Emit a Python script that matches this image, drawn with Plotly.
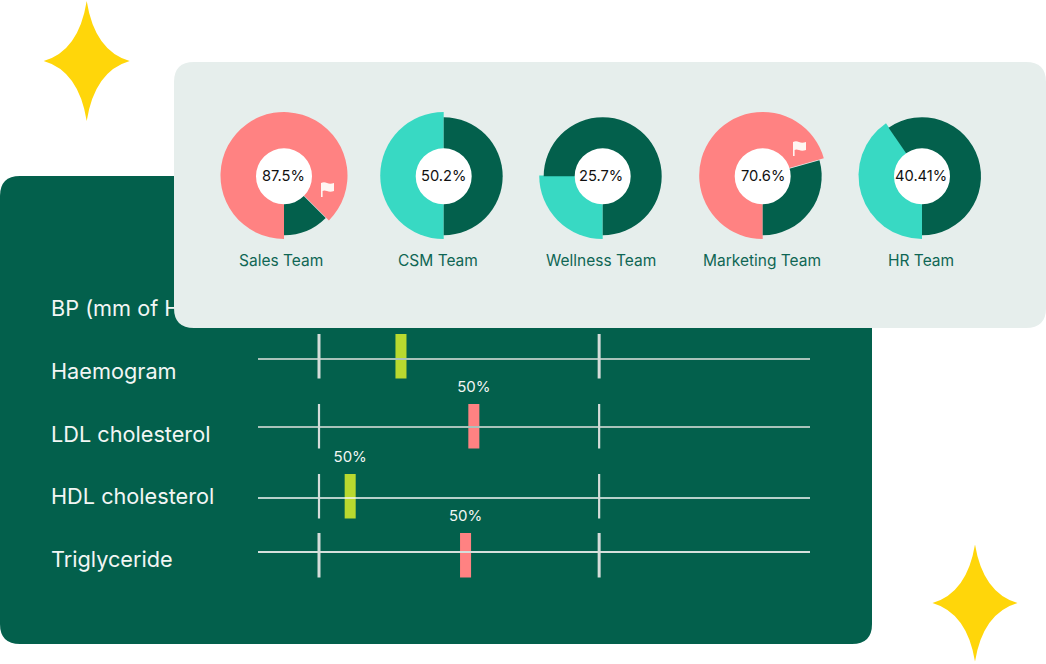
import plotly.graph_objects as go

# ---- data ----
TEAMS = ["Sales Team", "CSM Team", "Wellness Team", "Marketing Team", "HR Team"]
TEAM_LABELS = ["87.5%", "50.2%", "25.7%", "70.6%", "40.41%"]
TEAM_ARCS = [87.5, 50.0, 25.0, 70.6, 40.41]  # the drawn sweep, which differs slightly from the printed label
TEAM_FLAGGED = [True, False, False, True, False]

TESTS = ["Haemogram", "LDL cholesterol", "HDL cholesterol", "Triglyceride"]
TEST_VALUES = [25.9, 39.1, 16.7, 37.6]
TEST_LABELS = ["50%", "50%", "50%", "50%"]
TEST_IN_RANGE = [True, False, True, False]
RANGE_LIMITS = [11.05, 61.8]
HIDDEN_LABEL = "BP (mm of Hg)"

# ---- style / layout ----
W, H = 1046, 664
DARK, PINK, TEAL, LIME, YELLOW = "#03604c", "#ff8282", "#38d9c3", "#b9d92f", "#ffd60a"
PANEL = "#e6eeec"
FONT_A = "Inter"
FONT_B = "Inter"
CENTERS_X = [284, 443.7, 602.7, 762.7, 922]
TEXT_X = [283, 443.5, 600.7, 763, 921]
NAME_X = [280.5, 438, 601, 762, 921]
CY = 175.5
CY_SMALL = 176.3
R_BIG, R_SMALL, R_HOLE = 63.5, 59, 28
ROW_MID = [359, 427, 498, 552]
ROW_TOP = [334, 404, 474, 533]
ROW_HEIGHT = 44.5
LABEL_Y = [374, 437, 499, 562]
TRACK_COLOR = ["#a9c2ba", "#a9c2ba", "#f4f7f6", "#d6e0dc"]
TRACK_W = [2, 2, 1.5, 1.8]
TICK_W = [3, 2.2, 2.2, 3]
TRACK_L, TRACK_R = 258, 810
BAR_W = 2.0


def rrect(x0, y0, x1, y1, r):
    return (f"M{x0+r},{y0} L{x1-r},{y0} Q{x1},{y0} {x1},{y0+r} L{x1},{y1-r} Q{x1},{y1} {x1-r},{y1} "
            f"L{x0+r},{y1} Q{x0},{y1} {x0},{y1-r} L{x0},{y0+r} Q{x0},{y0} {x0+r},{y0} Z")


def star(cx, cy, w, h):
    kx, ky = 8, 10
    return (f"M{cx},{cy-h} Q{cx+kx},{cy-ky} {cx+w},{cy} Q{cx+kx},{cy+ky} {cx},{cy+h} "
            f"Q{cx-kx},{cy+ky} {cx-w},{cy} Q{cx-kx},{cy-ky} {cx},{cy-h} Z")


def flag(x, y):
    return (f"M{x},{y+15} L{x},{y+1} Q{x+3},{y-0.5} {x+6},{y+1} Q{x+9},{y+2.5} {x+13},{y+1} L{x+13},{y+9} "
            f"Q{x+9},{y+10.5} {x+6},{y+9} Q{x+3},{y+8} {x+1.6},{y+9} L{x+1.6},{y+15} Z")


fig = go.Figure()

# test names (covered in part by the panel, as in the source)
fig.add_trace(go.Scatter(x=[51] * 5, y=[311] + LABEL_Y, text=[HIDDEN_LABEL] + TESTS, mode="text",
                         textposition="middle right", cliponaxis=False, hoverinfo="skip",
                         textfont=dict(family=FONT_A, size=21.7, color="#f2f6f4"),
                         xaxis="x", yaxis="y", showlegend=False))

# bullet rows
for i, name in enumerate(TESTS):
    fig.add_trace(go.Scatter(x=[0, 100], y=[ROW_MID[i]] * 2, mode="lines", hoverinfo="skip",
                             line=dict(color=TRACK_COLOR[i], width=TRACK_W[i]),
                             xaxis="x2", yaxis="y", showlegend=False))
    for lim in RANGE_LIMITS:
        fig.add_trace(go.Scatter(x=[lim, lim], y=[ROW_TOP[i], ROW_TOP[i] + ROW_HEIGHT], mode="lines",
                                 hoverinfo="skip", line=dict(color="#d5dcd9", width=TICK_W[i]),
                                 xaxis="x2", yaxis="y", showlegend=False))

fig.add_trace(go.Bar(x=TEST_VALUES, y=[ROW_HEIGHT] * 4, base=ROW_TOP, width=BAR_W,
                     marker=dict(color=[LIME if ok else PINK for ok in TEST_IN_RANGE], line=dict(width=0)),
                     xaxis="x2", yaxis="y", showlegend=False, hoverinfo="skip"))
fig.add_trace(go.Scatter(x=TEST_VALUES, y=[t - 15.5 for t in ROW_TOP], text=TEST_LABELS, mode="text",
                         textfont=dict(family=FONT_B, size=15, color="#f2f6f4"), hoverinfo="skip",
                         cliponaxis=False, xaxis="x2", yaxis="y", showlegend=False))

# invisible trace creating the panel's own subplot
fig.add_trace(go.Scatter(x=[0], y=[0], mode="none", xaxis="x3", yaxis="y3", showlegend=False, hoverinfo="skip"))

# donuts
shapes = [
    dict(type="path", path=rrect(0, 176, 872, 644, 20), fillcolor=DARK, line_width=0, xref="x", yref="y", layer="below"),
    dict(type="path", path=star(86.7, 61, 43, 60), fillcolor=YELLOW, line_width=0, xref="x", yref="y", layer="below"),
    dict(type="path", path=star(975, 603, 42.5, 58.5), fillcolor=YELLOW, line_width=0, xref="x", yref="y", layer="below"),
    dict(type="path", path=rrect(174, 62, 1046, 328, 20), fillcolor=PANEL, line_width=0, xref="x3", yref="y3", layer="between"),
]
annotations = []
for i, team in enumerate(TEAMS):
    v = TEAM_ARCS[i]
    cx = CENTERS_X[i]
    hi = PINK if TEAM_FLAGGED[i] else TEAL
    for r, cy, colors in ((R_BIG, CY, [hi, "rgba(0,0,0,0)"]), (R_SMALL, CY_SMALL, ["rgba(0,0,0,0)", DARK])):
        fig.add_trace(go.Pie(values=[v, 100 - v], sort=False, direction="clockwise", rotation=180,
                             marker=dict(colors=colors, line=dict(width=0)), textinfo="none", hoverinfo="skip",
                             showlegend=False,
                             domain=dict(x=[(cx - r) / W, (cx + r) / W], y=[1 - (cy + r) / H, 1 - (cy - r) / H])))
    shapes.append(dict(type="circle", x0=cx - R_HOLE, x1=cx + R_HOLE, y0=CY_SMALL - R_HOLE, y1=CY_SMALL + R_HOLE,
                       xref="x", yref="y", fillcolor="white", line_width=0, layer="above"))
    annotations.append(dict(x=TEXT_X[i], y=CY + 0.5, xref="x", yref="y", text=TEAM_LABELS[i], showarrow=False,
                            font=dict(family=FONT_B, size=14.7, color="#111111")))
    annotations.append(dict(x=NAME_X[i], y=260.5, xref="x", yref="y", text=team, showarrow=False,
                            font=dict(family=FONT_B, size=15.5, color="#0f6654")))

shapes.append(dict(type="path", path=flag(321, 182), fillcolor="#fff6f2", line_width=0, xref="x", yref="y", layer="above"))
shapes.append(dict(type="path", path=flag(793, 141), fillcolor="#fff6f2", line_width=0, xref="x", yref="y", layer="above"))

hidden = dict(visible=False, fixedrange=True)
fig.update_layout(
    width=W, height=H, margin=dict(l=0, r=0, t=0, b=0), autosize=False,
    paper_bgcolor="white", plot_bgcolor="rgba(0,0,0,0)", showlegend=False, barmode="overlay",
    xaxis=dict(domain=[0, 1], range=[0, W], **hidden),
    yaxis=dict(domain=[0, 1], range=[H, 0], **hidden),
    xaxis2=dict(domain=[TRACK_L / W, TRACK_R / W], range=[0, 100], anchor="y", **hidden),
    xaxis3=dict(domain=[0, 1], range=[0, W], anchor="y3", **hidden),
    yaxis3=dict(domain=[0, 1], range=[H, 0], anchor="x3", **hidden),
    shapes=shapes, annotations=annotations,
)
fig.write_html("out.html", config=dict(displayModeBar=False),
               post_script="document.body.style.margin='0';document.documentElement.style.overflow='hidden';")
